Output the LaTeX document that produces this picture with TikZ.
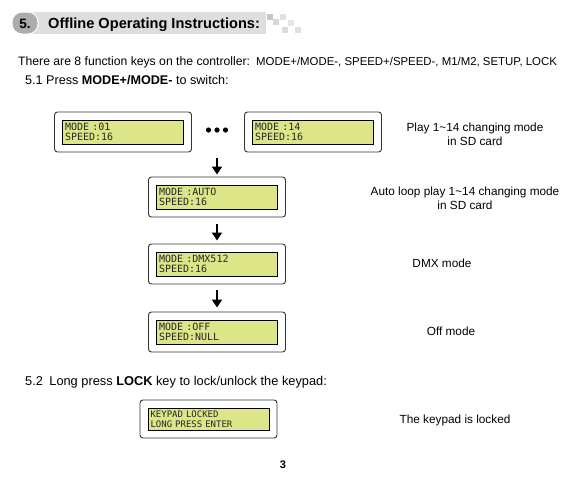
\documentclass[tikz,border=0pt]{standalone}
\usepackage{fontspec}
\setmainfont{Liberation Sans}
\newfontfamily\lcdfont{DejaVu Sans Mono}
\usetikzlibrary{positioning,arrows.meta}

\definecolor{lcdgreen}{RGB}{221,229,137}
\definecolor{barlight}{RGB}{222,222,222}
\definecolor{bardark}{RGB}{172,172,172}

\tikzset{
  lcdframe/.style={draw=black!80, line width=0.9pt, rounded corners=3pt, minimum width=137pt, minimum height=40pt, inner sep=0pt},
  lcdscreen/.style={draw=black, line width=1pt, fill=lcdgreen, minimum width=121pt, minimum height=24pt, text width=116pt, align=left, inner xsep=2.5pt, inner ysep=0pt, font=\lcdfont\fontsize{10}{10.5}\selectfont, text=black!85},
  note/.style={align=center, font=\fontsize{11.8}{14}\selectfont},
  bodytext/.style={anchor=base west, inner sep=0pt, font=\fontsize{12.2}{14}\selectfont},
  downarrow/.style={-{Triangle[width=10pt,length=8pt]}, line width=2.6pt}
}

\begin{document}
\begin{tikzpicture}[x=1pt,y=-1pt]
\useasboundingbox (0,0) rectangle (579,483);

% Section header bar
\fill[barlight] (25,12) rectangle (266,34);
\foreach \px/\py/\g in {267/14/78, 273/19/84, 280/14/88, 282/27/86, 288/20/90, 295/27/88}
  \fill[black!\the\numexpr100-\g\relax] (\px,\py) rectangle ++(6,6);
\fill[bardark, draw=white, line width=1pt, rounded corners=10pt] (12,12) rectangle (38,34);
\node[font=\bfseries\fontsize{13.5}{15}\selectfont] (secnum) at (25,23.5) {5.};
\node[anchor=base west, inner sep=0pt, font=\bfseries\fontsize{14.6}{16}\selectfont] (title) at (48,28.5) {Offline Operating Instructions:};

% Intro lines
\node[bodytext] (intro) at (18,65) {There are 8 function keys on the controller:};
\node[bodytext, font=\fontsize{11.4}{14}\selectfont] (keys) at (256,65) {MODE+/MODE-, SPEED+/SPEED-, M1/M2, SETUP, LOCK};
\node[bodytext, font=\fontsize{12.6}{14}\selectfont] (step51) at (25,84) {5.1 Press \textbf{MODE+/MODE-} to switch:};

% Mode screens
\node[lcdframe] (mode01) at (123,132) {};
\node[lcdscreen] at (mode01) {MODE :01\\SPEED:16};
\node[lcdframe] (mode14) at (313,132) {};
\node[lcdscreen] at (mode14) {MODE :14\\SPEED:16};
\node[minimum height=56pt, minimum width=24pt, inner sep=0pt] (dots) at (217,130) {};
\foreach \dx in {-8.5,0,8.5}
  \fill ([xshift=\dx pt]dots.center) circle (2.6pt);

\node[lcdframe] (modeauto) at (217,197) {};
\node[lcdscreen] at (modeauto) {MODE :AUTO\\SPEED:16};
\node[lcdframe] (modedmx) at (217,264) {};
\node[lcdscreen] at (modedmx) {MODE :DMX512\\SPEED:16};
\node[lcdframe] (modeoff) at (217,332) {};
\node[lcdscreen] at (modeoff) {MODE :OFF\\SPEED:NULL};

% Arrows between screens
\draw[downarrow, shorten >=2pt] (dots) -- (modeauto);
\draw[downarrow, shorten <=7pt, shorten >=3pt] (modeauto) -- (modedmx);
\draw[downarrow, shorten <=6pt, shorten >=4pt] (modedmx) -- (modeoff);

% Descriptions
\node[note] (playnote) at (475,134) {Play 1\textasciitilde14 changing mode\\in SD card};
\node[note] (autonote) at (465,198) {Auto loop play 1\textasciitilde14 changing mode\\in SD card};
\node[note] (dmxnote) at (442,263) {DMX mode};
\node[note] (offnote) at (451,331) {Off mode};

% Keypad lock
\node[bodytext, font=\fontsize{12.8}{14}\selectfont] (step52) at (25,385) {5.2\enspace Long press \textbf{LOCK} key to lock/unlock the keypad:};
\node[lcdframe, minimum height=38pt] (keylock) at (208.5,419) {};
\node[lcdscreen, minimum height=22pt, font=\lcdfont\fontsize{9}{10}\selectfont] at (keylock) {KEYPAD LOCKED\\LONG PRESS ENTER};
\node[note] (locknote) at (455,420) {The keypad is locked};

% Page number
\node[font=\bfseries\fontsize{11}{12}\selectfont] (pagenum) at (283,465) {3};
\end{tikzpicture}
\end{document}
